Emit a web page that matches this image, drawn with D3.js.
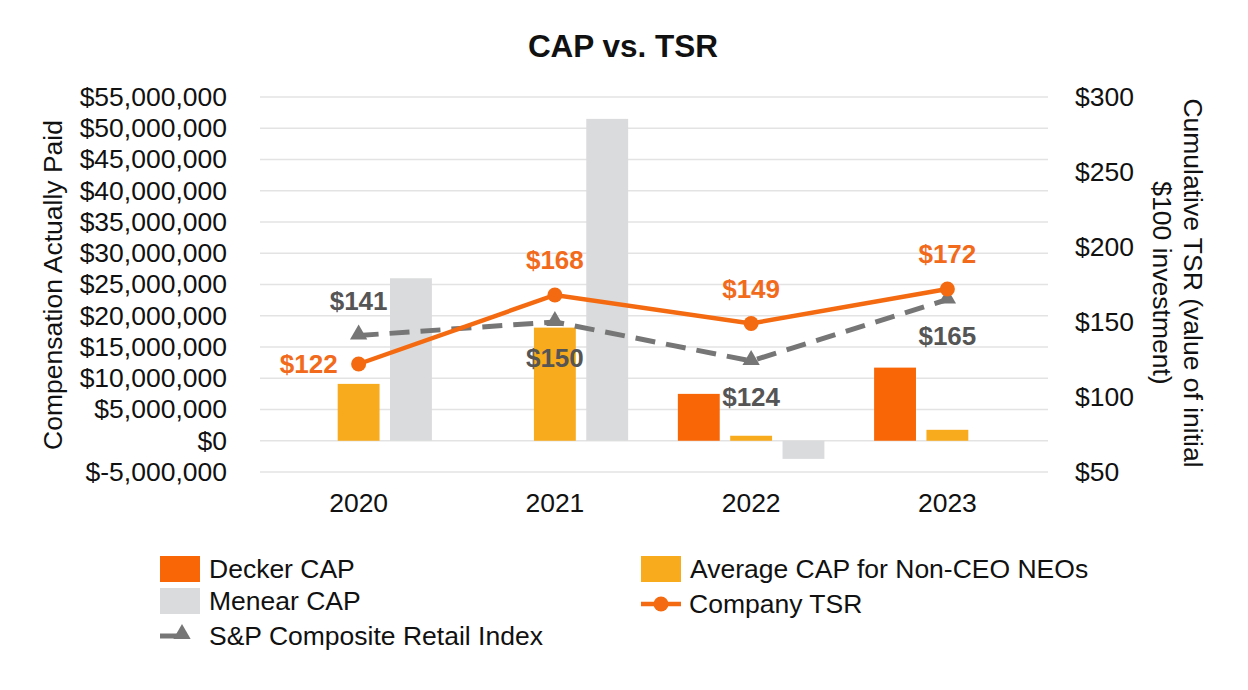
<!DOCTYPE html>
<html><head><meta charset="utf-8">
<script src="https://cdn.jsdelivr.net/npm/d3@7"></script>
<style>
body{margin:0;background:#fff}
svg{display:block}
text{font-family:"Liberation Sans",Arial,Helvetica,sans-serif}
</style>
</head><body>
<svg id="chart" width="1248" height="690"></svg>
<script>
// ---- data ----
const years = ["2020", "2021", "2022", "2023"];
const barSeries = ["Decker CAP", "Average CAP for Non-CEO NEOs", "Menear CAP"];
const deckerCAP = [null, null, 7500000, 11700000];
const nonCeoCAP = [9100000, 18100000, 800000, 1750000];
const menearCAP = [26000000, 51500000, -2900000, null];
const companyTSR = [122, 168, 149, 172];
const spRetail = [141, 150, 124, 165];
const leftTicks = [-5000000, 0, 5000000, 10000000, 15000000, 20000000, 25000000, 30000000, 35000000, 40000000, 45000000, 50000000, 55000000];
const rightTicks = [50, 100, 150, 200, 250, 300];

// ---- styles ----
const C = {
  decker: "#F86605",
  nonceo: "#F8AB1C",
  menear: "#DADBDC",
  tsr: "#F46A10",
  sp: "#767676",
  tsrLabel: "#F26A1B",
  spLabel: "#555555",
  grid: "#E3E3E3",
  text: "#111111"
};
const FS = 26.5;
const barColors = [C.decker, C.nonceo, C.menear];
const barValues = [deckerCAP, nonCeoCAP, menearCAP];

const svg = d3.select("#chart");

const x0 = d3.scaleBand().domain(years).range([260.5, 1045.5]).paddingInner(0.2).paddingOuter(0.1);
const x1 = d3.scaleBand().domain(barSeries).range([0, x0.bandwidth()]).paddingInner(0.2).paddingOuter(0.1);
const yL = d3.scaleLinear().domain([-5000000, 55000000]).range([472, 97]);
const yR = d3.scaleLinear().domain([50, 300]).range([472, 97]);
const cx = y => x0(y) + x0.bandwidth() / 2;

// gridlines
svg.append("g").selectAll("line").data(leftTicks).join("line")
  .attr("x1", 260).attr("x2", 1048)
  .attr("y1", d => yL(d)).attr("y2", d => yL(d))
  .attr("stroke", C.grid).attr("stroke-width", 1.6);

// title
svg.append("text").attr("x", 623).attr("y", 57).attr("text-anchor", "middle")
  .attr("font-size", 31.5).attr("font-weight", "bold").attr("fill", C.text).text("CAP vs. TSR");

// left axis
const fmtMoney = v => (v < 0 ? "$-" : "$") + d3.format(",")(Math.abs(v));
const gL = svg.append("g").attr("transform", "translate(236,0)")
  .call(d3.axisLeft(yL).tickValues(leftTicks).tickFormat(fmtMoney).tickSize(0).tickPadding(9));
gL.select(".domain").remove();
gL.selectAll("text").attr("font-size", FS).attr("fill", C.text).attr("font-family", null);

// right axis
const gR = svg.append("g").attr("transform", "translate(1066,0)")
  .call(d3.axisRight(yR).tickValues(rightTicks).tickFormat(d => "$" + d).tickSize(0).tickPadding(9));
gR.select(".domain").remove();
gR.selectAll("text").attr("font-size", FS).attr("fill", C.text).attr("font-family", null);

// bottom axis
const gB = svg.append("g").attr("transform", "translate(0,472)")
  .call(d3.axisBottom(x0).tickSize(0).tickPadding(21));
gB.select(".domain").remove();
gB.selectAll("text").attr("font-size", FS).attr("fill", C.text).attr("font-family", null);

// axis titles
svg.append("text").attr("transform", "translate(62,285) rotate(-90)").attr("text-anchor", "middle")
  .attr("font-size", FS).attr("fill", C.text).text("Compensation Actually Paid");
const rt = svg.append("text").attr("transform", "translate(1184,283) rotate(90)").attr("text-anchor", "middle")
  .attr("font-size", FS).attr("fill", C.text);
rt.append("tspan").attr("x", 0).attr("dy", 0).text("Cumulative TSR (value of initial");
rt.append("tspan").attr("x", 0).attr("dy", 31).text("$100 investment)");

// bars
const barG = svg.append("g");
barSeries.forEach((s, i) => {
  const vals = barValues[i];
  barG.append("g").selectAll("rect")
    .data(years.map((y, j) => ({ y, v: vals[j] })).filter(d => d.v !== null))
    .join("rect")
    .attr("x", d => x0(d.y) + x1(s))
    .attr("width", x1.bandwidth())
    .attr("y", d => yL(Math.max(0, d.v)))
    .attr("height", d => Math.abs(yL(d.v) - yL(0)))
    .attr("fill", barColors[i]);
});

// triangle symbol
const tri = d3.symbol().type(d3.symbolTriangle).size(130);

// S&P line
const spPts = years.map((y, j) => ({ y, v: spRetail[j] }));
svg.append("path").datum(spPts)
  .attr("d", d3.line().x(d => cx(d.y)).y(d => yR(d.v)))
  .attr("fill", "none").attr("stroke", C.sp).attr("stroke-width", 5)
  .attr("stroke-dasharray", "20,11");
svg.append("g").selectAll("path").data(spPts).join("path")
  .attr("d", tri).attr("transform", d => `translate(${cx(d.y)},${yR(d.v) - 1})`)
  .attr("fill", C.sp);

// Company TSR line
const tsrPts = years.map((y, j) => ({ y, v: companyTSR[j] }));
svg.append("path").datum(tsrPts)
  .attr("d", d3.line().x(d => cx(d.y)).y(d => yR(d.v)))
  .attr("fill", "none").attr("stroke", C.tsr).attr("stroke-width", 4.5);
svg.append("g").selectAll("circle").data(tsrPts).join("circle")
  .attr("cx", d => cx(d.y)).attr("cy", d => yR(d.v)).attr("r", 7.5)
  .attr("fill", C.tsr);

// data labels
const fmtTSR = v => "$" + v;
const tsrPlace = ["left", "above", "above", "above"];
const spPlace = ["above", "below", "below", "below"];
function place(p, x, y) {
  if (p === "left") return { x: x - 21, y: y + 9, a: "end" };
  if (p === "above") return { x: x, y: y - 26, a: "middle" };
  return { x: x, y: y + 45, a: "middle" };
}
tsrPts.forEach((d, j) => {
  const q = place(tsrPlace[j], cx(d.y), yR(d.v));
  svg.append("text").attr("x", q.x).attr("y", q.y).attr("text-anchor", q.a)
    .attr("font-size", 26).attr("font-weight", "bold").attr("fill", C.tsrLabel).text(fmtTSR(d.v));
});
spPts.forEach((d, j) => {
  const q = place(spPlace[j], cx(d.y), yR(d.v));
  svg.append("text").attr("x", q.x).attr("y", q.y).attr("text-anchor", q.a)
    .attr("font-size", 26).attr("font-weight", "bold").attr("fill", C.spLabel).text(fmtTSR(d.v));
});

// legend
const lg = svg.append("g");
function legRect(x, y, col, label) {
  lg.append("rect").attr("x", x).attr("y", y - 13).attr("width", 40).attr("height", 26).attr("fill", col);
  lg.append("text").attr("x", x + 49).attr("y", y + 9).attr("font-size", FS).attr("fill", C.text).text(label);
}
legRect(160, 569, C.decker, "Decker CAP");
legRect(160, 601, C.menear, "Menear CAP");
legRect(641, 569, C.nonceo, "Average CAP for Non-CEO NEOs");
// Company TSR legend
lg.append("line").attr("x1", 641).attr("x2", 681).attr("y1", 604).attr("y2", 604)
  .attr("stroke", C.tsr).attr("stroke-width", 4.5);
lg.append("circle").attr("cx", 661).attr("cy", 604).attr("r", 7.5).attr("fill", C.tsr);
lg.append("text").attr("x", 689).attr("y", 613).attr("font-size", FS).attr("fill", C.text).text("Company TSR");
// S&P legend
lg.append("line").attr("x1", 160).attr("x2", 178).attr("y1", 636).attr("y2", 636)
  .attr("stroke", C.sp).attr("stroke-width", 5);
lg.append("path").attr("d", tri).attr("transform", "translate(182,634)").attr("fill", C.sp);
lg.append("text").attr("x", 209).attr("y", 645).attr("font-size", FS).attr("fill", C.text).text("S&P Composite Retail Index");
</script>
</body></html>
